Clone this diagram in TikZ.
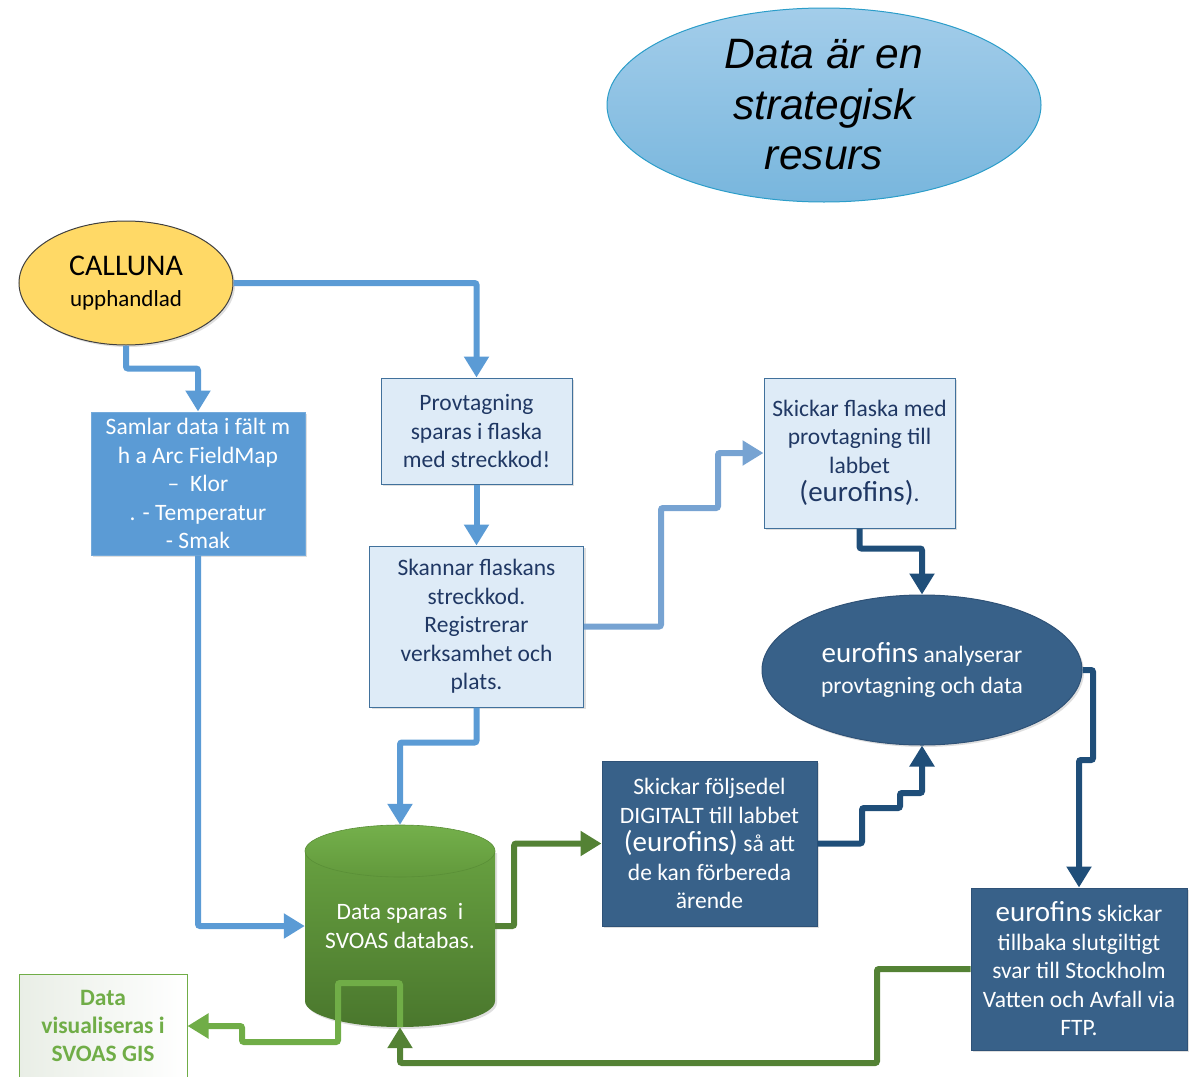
\documentclass[tikz,border=0pt]{standalone}
\usepackage{fontspec}
\setmainfont{Carlito}
\newfontfamily\arialf{Liberation Sans}
\usetikzlibrary{arrows.meta,shapes.geometric,shadows,calc}
\definecolor{lblue}{HTML}{5B9BD5}
\definecolor{sblue}{HTML}{77A3D2}
\definecolor{dblue}{HTML}{1F4E79}
\definecolor{boxfill}{HTML}{DEEBF7}
\definecolor{boxdraw}{HTML}{41719C}
\definecolor{boxtext}{HTML}{203864}
\definecolor{darkfill}{HTML}{386189}
\definecolor{darkdraw}{HTML}{2F5277}
\definecolor{dgreen}{HTML}{548235}
\definecolor{lgreen}{HTML}{70AD47}
\definecolor{yel}{HTML}{FFD966}
\definecolor{strattop}{HTML}{A3CDEA}
\definecolor{stratbot}{HTML}{78B6DD}
\definecolor{stratdraw}{HTML}{2B9DC9}
\definecolor{calldraw}{HTML}{404040}
\definecolor{visleft}{HTML}{E9EEE6}
\definecolor{cyltop}{HTML}{67A040}
\definecolor{cylbot}{HTML}{4A772D}
\definecolor{captop}{HTML}{74B04B}
\definecolor{capbot}{HTML}{62993C}
\definecolor{capdraw}{HTML}{5A8F37}
\tikzset{
  shad/.style={drop shadow={opacity=0.25,shadow xshift=2pt,shadow yshift=-2pt}},
  txt/.style={font=\fontsize{23.5}{28.5}\selectfont, align=center, inner sep=0pt},
  lightbox/.style={txt, rectangle, fill=boxfill, draw=boxdraw, line width=1pt, text=boxtext, shad},
  darkbox/.style={txt, rectangle, fill=darkfill, draw=darkdraw, line width=1pt, text=white, shad},
  midbox/.style={txt, rectangle, fill=lblue, draw=lblue!85!white, line width=1pt, text=white, shad},
  tip/.style={-{Triangle[width=24pt,length=21pt]}},
  conn/.style={tip, line width=6pt, rounded corners=2pt},
  bl/.style={conn, draw=lblue},
  sbl/.style={conn, draw=sblue},
  dbl/.style={conn, draw=dblue},
  dgr/.style={conn, draw=dgreen},
  lgr/.style={conn, draw=lgreen},
}
\newcommand{\eubig}[1]{{\fontsize{29}{28}\selectfont #1}}
\begin{document}
\begin{tikzpicture}[x=1pt,y=-1pt]
\path[use as bounding box] (0,0) rectangle (1204,1076);

% top ellipse
\node[ellipse, minimum width=434pt, minimum height=194pt, inner sep=0pt,
      top color=strattop, bottom color=stratbot, draw=stratdraw, line width=1pt,
      font=\arialf\itshape\fontsize{42.5}{50.5}\selectfont, align=center] (strat) at (824,105)
  {Data är en\\strategisk\\resurs};

% CALLUNA
\node[ellipse, minimum width=214pt, minimum height=124pt, inner sep=0pt, fill=yel,
      draw=calldraw, line width=1pt, align=center, shad,
      font=\fontsize{23}{31}\selectfont] (calluna) at (126,283)
  {{\fontsize{30}{31}\selectfont CALLUNA}\\upphandlad};

\node[midbox, minimum width=214pt, minimum height=143pt] (samlar) at (198,483.5)
  {Samlar data i fält m\\h a Arc FieldMap\\–\ \ Klor\\. - Temperatur\\- Smak};

\node[lightbox, minimum width=191pt, minimum height=106pt] (prov) at (476.5,431)
  {Provtagning\\sparas i flaska\\med streckkod!};

\node[lightbox, minimum width=214pt, minimum height=161pt] (skan) at (476.5,626.5)
  {Skannar flaskans\\streckkod.\\Registrerar\\verksamhet och\\plats.};

\node[lightbox, minimum width=191pt, minimum height=150pt] (flaska) at (859.5,453)
  {Skickar flaska med\\provtagning till\\labbet\\\eubig{(eurofins)}.};

\node[ellipse, minimum width=320pt, minimum height=150pt, inner sep=0pt, fill=darkfill,
      draw=darkdraw, line width=1pt, text=white, align=center, shad,
      font=\fontsize{23.5}{31}\selectfont] (eur) at (922,670)
  {\eubig{eurofins} analyserar\\provtagning och data};

\node[darkbox, minimum width=215pt, minimum height=165pt] (folj) at (709.5,843.5)
  {Skickar följsedel\\DIGITALT till labbet\\\eubig{(eurofins)} så att\\de kan förbereda\\ärende};

\node[darkbox, minimum width=216pt, minimum height=162pt] (eskick) at (1079,969)
  {\eubig{eurofins} skickar\\tillbaka slutgiltigt\\svar till Stockholm\\Vatten och Avfall via\\FTP.};

% visualiseras box
\node[txt, rectangle, minimum width=168pt, minimum height=104pt, left color=visleft,
      right color=white, draw=lgreen, line width=1pt, text=lgreen,
      font=\bfseries\fontsize{23.5}{28}\selectfont] (vis) at (103,1026)
  {Data\\visualiseras i\\SVOAS GIS};

% cylinder
\path[top color=cyltop, bottom color=cylbot, shad]
  (305,851) -- (305,1001) arc[start angle=180, end angle=0, x radius=95, y radius=26]
  -- (495,851) -- cycle;
\path[top color=captop, bottom color=capbot, draw=capdraw, line width=0.6pt]
  (400,851) ellipse[x radius=95, y radius=26];
\node[txt, text=white, minimum width=190pt, minimum height=202pt] (db) at (400,926)
  {Data sparas\ \ i\\SVOAS databas.};

% connectors
\draw[bl] (calluna.east) -| (prov.north);
\draw[bl] (calluna.south) -- ++(0,23) -| (samlar.north);
\draw[bl] (prov.south) -- (skan.north);
\draw[sbl] (skan.east) -| (661,508) -| (718,453) -- (flaska.west);
\draw[bl] (skan.south) -- ++(0,35) -| (db.north);
\draw[bl] (samlar.south) |- (db.west);
\draw[dbl] (flaska.south) -- ++(0,20) -| (eur.north);
\draw[dbl] (eur.east) -| (1093,760) -| (eskick.north);
\draw[dbl] (folj.east) -| (862,808) -| (900,793) -| (eur.south);
\draw[dgr] (db.east) -- ++(19,0) |- (folj.west);
\draw[dgr] (eskick.west) -| (877,1063) -| (db.south);
\draw[lgr] (db.south) -- (400,983) -| (338,1042) -| (242,1026) -- (vis.east);
\end{tikzpicture}
\end{document}
